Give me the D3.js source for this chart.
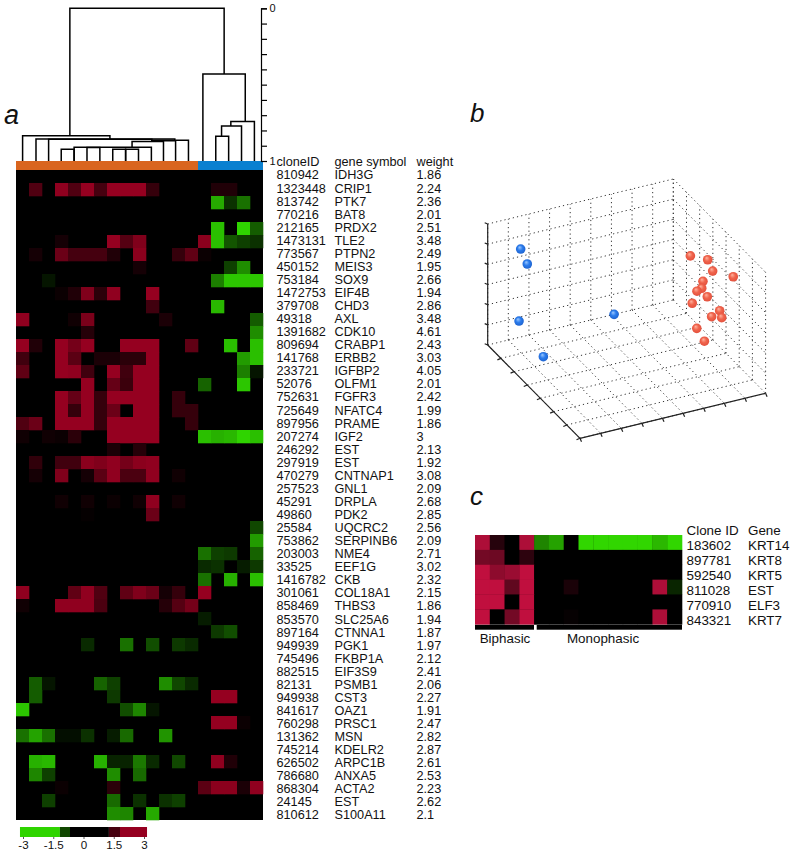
<!DOCTYPE html>
<html><head><meta charset="utf-8">
<script src="https://cdn.jsdelivr.net/npm/d3@7/dist/d3.min.js"></script>
<style>
html,body{margin:0;padding:0;background:#fff}
svg{display:block}
text{font-family:"Liberation Sans",Arial,sans-serif;fill:#111}
</style></head><body>
<svg id="c" width="794" height="853"></svg>
<script>
// ---------- panel a: gene table ----------
const cloneIds=["810942","1323448","813742","770216","212165","1473131","773567","450152","753184","1472753","379708","49318","1391682","809694","141768","233721","52076","752631","725649","897956","207274","246292","297919","470279","257523","45291","49860","25584","753862","203003","33525","1416782","301061","858469","853570","897164","949939","745496","882515","82131","949938","841617","760298","131362","745214","626502","786680","868304","24145","810612"];
const geneSymbols=["IDH3G","CRIP1","PTK7","BAT8","PRDX2","TLE2","PTPN2","MEIS3","SOX9","EIF4B","CHD3","AXL","CDK10","CRABP1","ERBB2","IGFBP2","OLFM1","FGFR3","NFATC4","PRAME","IGF2","EST","EST","CNTNAP1","GNL1","DRPLA","PDK2","UQCRC2","SERPINB6","NME4","EEF1G","CKB","COL18A1","THBS3","SLC25A6","CTNNA1","PGK1","FKBP1A","EIF3S9","PSMB1","CST3","OAZ1","PRSC1","MSN","KDELR2","ARPC1B","ANXA5","ACTA2","EST","S100A11"];
const weights=["1.86","2.24","2.36","2.01","2.51","3.48","2.49","1.95","2.66","1.94","2.86","3.48","4.61","2.43","3.03","4.05","2.01","2.42","1.99","1.86","3","2.13","1.92","3.08","2.09","2.68","2.85","2.56","2.09","2.71","3.02","2.32","2.15","1.86","1.94","1.87","1.97","2.12","2.41","2.06","2.27","1.91","2.47","2.82","2.87","2.61","2.53","2.23","2.62","2.1"];
// non-zero cells of each row as col,value pairs
const heatRows=[
[],
[1,1.5,3,2.7,4,1.5,5,2.8,6,1.3,7,2.8,8,2.8,9,2.8,10,1,15,.6,16,.6],
[15,-2.4,16,-.7,17,-1.6],
[],
[15,-2.7,17,-3,18,-1.3],
[3,.4,7,2.8,8,1.6,9,2.4,14,2.6,15,-2.7,16,-1.2,17,-.9,18,-.7],
[1,.4,3,2,4,1.3,5,1.3,6,1.3,7,.6,9,2.6,12,1,13,1.8,14,.2],
[9,.4,16,-.9,17,-2],
[2,-.3,15,-1.8,16,-2.8,17,-2.8,18,-2.8],
[3,.2,4,.6,5,2.4,6,.8,7,2.7,10,2.8],
[10,1.2,15,-2.6],
[0,2.7,4,.3,5,2.3,11,.5,18,-1.3],
[5,.7,18,-2],
[0,2.8,1,.6,3,2.8,4,2.2,5,2.8,8,2.8,9,2.8,10,2.8,13,1.8,16,-2.7,18,-2.7],
[0,1.2,3,2.8,4,1.7,6,.5,7,.5,8,.8,9,.8,10,2.8,17,-2.2,18,-2.7],
[0,1.8,3,2.8,4,2.7,5,1.2,7,2.8,8,1.2,9,2.8,10,2.8,17,-1.8,18,-.3],
[5,2.8,7,1.9,8,1.1,9,2.8,10,2.8,14,-1.4,17,-2.8],
[3,2.8,4,1.9,5,2.8,6,1,7,2.8,8,2.8,9,2.8,10,2.8,12,1],
[3,2.8,4,1,5,2.8,6,1,7,2,9,2.8,10,2.8,12,1,13,1],
[0,1.5,1,2,3,2.8,4,2.8,5,2.8,6,1,7,2.8,8,2.8,9,2.8,10,2.8,13,1],
[0,.3,2,.3,3,.2,4,.8,7,2.8,8,2.8,9,2.8,10,2.8,14,-2.7,15,-2.5,16,-2.6,17,-3,18,-2.7],
[7,.5,9,.7],
[1,.9,3,1.2,4,1.2,5,2.6,6,2.4,7,2.7,8,2.2,9,2.6,10,2.7],
[1,.4,3,2.4,5,.4,6,1.7,7,2.7,8,1.4,9,1.4,10,2.7,12,.3],
[],
[3,.3,5,.3,7,.2,9,.3,10,2.7,12,.3],
[5,.1,10,2],
[18,-1],
[18,-2.2],
[14,-1.6,15,-.9,16,-.8,18,-1.4],
[14,-.6,15,-.7,17,-.4,18,-.8],
[14,-1.6,16,-2.5,18,-2.7],
[0,2.7,4,1.8,5,2.7,6,1.5,8,1.8,9,2.4,10,2,11,.4,12,1,14,2.8],
[0,.3,3,2.7,4,2.7,5,2.7,6,1.4,11,.7,12,1.6,13,2.2],
[14,-.4],
[15,-.8,16,-1.1],
[5,-.6,8,-1.6,10,-1.1,12,-.8,13,-.6],
[],
[],
[1,-1.3,2,-.3,6,-1.4,7,-.9,11,-2,12,-1,13,-.6],
[1,-1.3,7,-.8,15,2.8,16,2.8],
[0,-2.8,8,-1.1,9,-1.9,10,-.3],
[15,2.8,16,2.8,17,.2],
[0,-1.6,1,-2.3,2,-1.6,3,-.2,4,-.2,5,-.7,7,-.4,8,-1.5,11,-2.1],
[],
[1,-2.5,2,-2.6,6,-2.5,7,-.5,8,-.5,9,-1.7,10,-.6,12,-1,15,2.7,16,.6],
[1,-1.9,2,-.9,7,-2,9,-1.5],
[3,.2,7,.8,14,1.7,15,2.6,16,2.6,17,.5,18,2.7],
[2,-.9,7,-1.5,9,-.7,11,-.7,12,-.9],
[7,-2,8,-1.9,10,-2.4]
];
const sampleCount=19, biphasicSamples=14;
// dendrogram merges in leaf position / distance units: l,r = horizontal extent, h = height, lh,rh = where the legs stop
const merges=[
{l:3.67,r:15.65,h:0,lh:.834,rh:.43},
{l:0,r:6.78,h:.834,lh:1,rh:.856},
{l:1.04,r:11.82,h:.856,lh:1,rh:.867},
{l:2.02,r:10.04,h:.858,lh:1,rh:.867},
{l:10.04,r:12.88,h:.864,lh:.87,rh:1},
{l:10.04,r:11.88,h:.868,lh:.873,rh:1},
{l:8.5,r:10.94,h:.873,lh:.91,rh:1},
{l:4,r:10,h:.91,lh:1,rh:1},
{l:3,r:4,h:.923,lh:1,rh:1},
{l:5,r:6,h:.912,lh:1,rh:1},
{l:7,r:8,h:.923,lh:1,rh:1},
{l:8,r:9,h:.923,lh:1,rh:1},
{l:14,r:17.29,h:.43,lh:1,rh:.741},
{l:16.17,r:18,h:.741,lh:.771,rh:1},
{l:15.45,r:17,h:.771,lh:.838,rh:1},
{l:15,r:16,h:.838,lh:1,rh:1}
];
const distTicks=[0,.1,.2,.3,.4,.5,.6,.7,.8,.9,1];
const legendEdges=[-3.15,-1.17,-.67,1.26,1.81,3.15];
const legendValues=[-3,-1,0,1.3,2.8];
const legendTicks=[-3,-1.5,0,1.5,3];
// ---------- panel b ----------
const blueX=[.96,1.28,.88,4.21,1.42], blueY=[1,1,1,3,2], blueZ=[5.18,4.36,1.63,2.46,.39];
const redX=[7.91,8.75,8.99,8.71,8.52,8.46,8.23,8.73,8,8.69,8.94,8.79,8.22,8.59];
const redY=[3,3,3,5,3,3,3,3,3,4,3,4,3,3];
const redZ=[4.44,4.04,3.42,4.53,3.03,2.7,2.61,2.21,2.07,2.19,1.17,1.82,.77,.04];
// ---------- panel c ----------
const cClone=["183602","897781","592540","811028","770910","843321"];
const cGene=["KRT14","KRT8","KRT5","EST","ELF3","KRT7"];
const cRows=[
[2.7,.6,0,2.7,-1.8,-2.2,0,-2.9,-2.9,-2.9,-2.9,-2.9,-2.5,-2.9],
[1.8,1.7,0,.7,0,0,0,0,0,0,0,0,0,0],
[3,2.2,2.4,3,0,0,0,0,0,0,0,0,0,0],
[3,3,1.5,3,0,0,.4,0,0,0,0,0,2.7,-.5],
[3,3,0,3,0,0,0,0,0,0,0,0,0,0],
[3,0,1.8,3,0,0,.1,0,0,0,0,0,2.7,0]
];

const svg=d3.select("#c");
const color=d3.scaleLinear().domain([-3,0,3]).range(["#2fd400","#000","#a00022"]).clamp(true);
const colorC=d3.scaleLinear().domain([-3,0,3]).range(["#33dd00","#000","#c00f3e"]).clamp(true);

// heatmap a
const xBand=d3.scaleBand().domain(d3.range(sampleCount)).range([16,263]);
const yBand=d3.scaleBand().domain(d3.range(heatRows.length)).range([170,820]);
const a=svg.append("g");
a.append("rect").attr("x",16).attr("y",170).attr("width",xBand.bandwidth()*sampleCount).attr("height",650).attr("fill","#000");
a.append("rect").attr("x",xBand(0)).attr("y",161).attr("width",xBand.bandwidth()*biphasicSamples).attr("height",9).attr("fill","#d9651f");
a.append("rect").attr("x",xBand(biphasicSamples)).attr("y",161).attr("width",xBand.bandwidth()*(sampleCount-biphasicSamples)).attr("height",9).attr("fill","#0a80d0");
heatRows.forEach((row,r)=>{
  const cells=d3.range(0,row.length,2).map(i=>({c:row[i],v:row[i+1]}));
  a.selectAll(null).data(cells).join("rect")
   .attr("x",d=>xBand(d.c)).attr("y",yBand(r)).attr("width",xBand.bandwidth()+.3).attr("height",yBand.bandwidth()+.3)
   .attr("fill",d=>color(d.v));
});
// dendrogram
const leafX=d3.scaleLinear().domain([0,18]).range([22.6,254.4]);
const distY=d3.scaleLinear().domain([0,1]).range([8.3,161]);
a.selectAll("path.m").data(merges).join("path")
 .attr("fill","none").attr("stroke","#000").attr("stroke-width",1.5)
 .attr("d",m=>d3.line()([[leafX(m.l),distY(m.lh)],[leafX(m.l),distY(m.h)],[leafX(m.r),distY(m.h)],[leafX(m.r),distY(m.rh)]]));
const axisG=a.append("g").attr("transform","translate(261,0)")
 .call(d3.axisRight(distY).tickValues(distTicks).tickSize(6).tickFormat(d=>(d===0||d===1)?d:""));
axisG.selectAll("path,line").attr("stroke","#000").attr("stroke-width",1.2);
axisG.selectAll("text").attr("font-size",11).attr("x",8.5).attr("fill","#111");
// table
const labelY=d3.scaleLinear().domain([0,49]).range([175,815]);
const tableCols=[[276.5,"cloneID",cloneIds],[334.5,"gene symbol",geneSymbols],[416.5,"weight",weights]];
tableCols.forEach(([x,h,vals])=>{
  a.append("text").attr("x",x).attr("y",161.7).attr("dy",".35em").attr("font-size",12.7).text(h);
  a.selectAll(null).data(vals).join("text").attr("x",x).attr("y",(d,i)=>labelY(i)).attr("dy",".35em").attr("font-size",12.7).text(d=>d);
});
// legend
const legX=d3.scaleLinear().domain([-3,3]).range([23,144]);
const leg=svg.append("g");
leg.selectAll("rect").data(legendValues).join("rect")
 .attr("x",(d,i)=>legX(legendEdges[i])).attr("y",827).attr("width",(d,i)=>legX(legendEdges[i+1])-legX(legendEdges[i])).attr("height",10)
 .attr("fill",d=>color(d));
const legAxis=leg.append("g").attr("transform","translate(0,837)")
 .call(d3.axisBottom(legX).tickValues(legendTicks).tickSize(2).tickFormat(d=>d));
legAxis.select(".domain").remove();
legAxis.selectAll("line").attr("stroke","#555");
legAxis.selectAll("text").attr("font-size",11.6).attr("y",4).attr("fill","#111");

// panel b: affine box
const A=[487.7,345];
const ux=d3.scaleLinear().domain([0,9]).range([0,185.6]), uy=d3.scaleLinear().domain([0,9]).range([0,-45]);
const vx=d3.scaleLinear().domain([0,7]).range([0,92.3]), vy=d3.scaleLinear().domain([0,7]).range([0,93.3]);
const wy=d3.scaleLinear().domain([0,6]).range([0,-121]);
const proj=(x,y,z)=>[A[0]+ux(x)+vx(y),A[1]+uy(x)+vy(y)+wy(z)];
const b=svg.append("g");
const seg=(p,q)=>({p,q});
const grid=[];
d3.range(0,10).forEach(x=>{grid.push(seg(proj(x,0,0),proj(x,7,0)));grid.push(seg(proj(x,0,0),proj(x,0,6)));});
d3.range(0,8).forEach(y=>{grid.push(seg(proj(0,y,0),proj(9,y,0)));grid.push(seg(proj(9,y,0),proj(9,y,6)));});
d3.range(1,7).forEach(z=>{grid.push(seg(proj(0,0,z),proj(9,0,z)));grid.push(seg(proj(9,0,z),proj(9,7,z)));});
b.selectAll("line.g").data(grid).join("line")
 .attr("x1",d=>d.p[0]).attr("y1",d=>d.p[1]).attr("x2",d=>d.q[0]).attr("y2",d=>d.q[1])
 .attr("stroke","#333").attr("stroke-width",1).attr("stroke-dasharray","1.2,3.1");
const solid=[seg(proj(0,0,0),proj(0,0,6)),seg(proj(0,0,0),proj(0,7,0)),seg(proj(0,7,0),proj(9,7,0))];
d3.range(0,7).forEach(z=>{const p=proj(0,0,z);solid.push(seg(p,[p[0]-3,p[1]-1.2]));});
d3.range(1,8).forEach(y=>{const p=proj(0,y,0);solid.push(seg(p,[p[0]-3.5,p[1]+1.5]));});
d3.range(0,10).forEach(x=>{const p=proj(x,7,0);solid.push(seg(p,[p[0]+1.5,p[1]+3.5]));});
b.selectAll("line.s").data(solid).join("line")
 .attr("x1",d=>d.p[0]).attr("y1",d=>d.p[1]).attr("x2",d=>d.q[0]).attr("y2",d=>d.q[1])
 .attr("stroke","#222").attr("stroke-width",1.2);
const defs=svg.append("defs");
[["ballB","#9cc8ff","#2b7cec","#1a5cc8"],["ballR","#ffb3a0","#f0654d","#e04a38"]].forEach(([id,c0,c1,c2])=>{
  const g=defs.append("radialGradient").attr("id",id).attr("cx",".5").attr("cy",".5").attr("r",".6").attr("fx",".38").attr("fy",".3");
  g.append("stop").attr("offset","0").attr("stop-color",c0);
  g.append("stop").attr("offset",".45").attr("stop-color",c1);
  g.append("stop").attr("offset","1").attr("stop-color",c2);
});
const drawBalls=(X,Y,Z,id)=>b.selectAll(null).data(X.map((x,i)=>proj(x,Y[i],Z[i]))).join("circle")
 .attr("cx",d=>d[0]).attr("cy",d=>d[1]).attr("r",4.8).attr("fill",`url(#${id})`);
drawBalls(blueX,blueY,blueZ,"ballB");
drawBalls(redX,redY,redZ,"ballR");

// panel c
const cxB=d3.scaleBand().domain(d3.range(14)).range([475,682]);
const cyB=d3.scaleBand().domain(d3.range(6)).range([535,624.3]);
const cg=svg.append("g");
cg.append("rect").attr("x",475).attr("y",535).attr("width",207).attr("height",89.3).attr("fill","#000");
cRows.forEach((row,r)=>{
  cg.selectAll(null).data(row).join("rect")
   .attr("x",(d,i)=>cxB(i)).attr("y",cyB(r)).attr("width",cxB.bandwidth()+.3).attr("height",cyB.bandwidth()+.3)
   .attr("fill",d=>colorC(d));
});
cg.append("rect").attr("x",475).attr("y",625).attr("width",59).attr("height",4.7).attr("fill","#000");
cg.append("rect").attr("x",536.7).attr("y",625).attr("width",145.3).attr("height",4.7).attr("fill","#000");
cg.append("text").attr("x",505).attr("y",638).attr("dy",".35em").attr("text-anchor","middle").attr("font-size",13.4).text("Biphasic");
cg.append("text").attr("x",603).attr("y",638).attr("dy",".35em").attr("text-anchor","middle").attr("font-size",13.4).text("Monophasic");
const cLab=d3.scaleLinear().domain([0,5]).range([545.7,620]);
[[686.5,"Clone ID",cClone],[748,"Gene",cGene]].forEach(([x,h,vals])=>{
  cg.append("text").attr("x",x).attr("y",530.7).attr("dy",".35em").attr("font-size",13.4).text(h);
  cg.selectAll(null).data(vals).join("text").attr("x",x).attr("y",(d,i)=>cLab(i)).attr("dy",".35em").attr("font-size",13.4).text(d=>d);
});

// panel letters
[["a",4,124,27],["b",470,122,26],["c",470,505,26]].forEach(([t,x,y,s])=>{
  svg.append("text").attr("x",x).attr("y",y).attr("font-size",s).attr("font-style","italic").text(t);
});
</script></body></html>
